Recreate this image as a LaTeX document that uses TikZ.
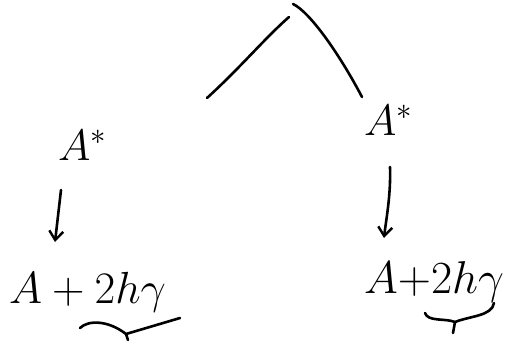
\RequirePackage{fix-cm}
\documentclass[tikz,border=0pt]{standalone}
\usetikzlibrary{arrows.meta}
\begin{document}
\begin{tikzpicture}[x=1pt,y=-1pt,
  ink/.style={line width=2.6pt,line cap=round,line join=round,black},
  arr/.style={ink,-{Straight Barb[length=9pt,width=14pt,line width=2.4pt]}},
  lbl/.style={inner sep=0pt,font=\fontsize{44}{48}\selectfont}]
\useasboundingbox (0,0) rectangle (508,343);
% top strokes
\coordinate (tl1) at (207,98); \coordinate (tl2) at (289,17);
\coordinate (tr1) at (293,4);  \coordinate (tr2) at (362,97);
\draw[ink] (tl1) .. controls (240,68) and (265,38) .. (tl2);
\draw[ink] (tr1) .. controls (310,12) and (340,55) .. (tr2);
% labels
\node[lbl,anchor=base west] (la) at (58,160) {$A^{\ast}$};
\node[lbl,anchor=base west] (ra) at (364,135) {$A^{\ast}$};
\node[lbl,anchor=base west,font=\fontsize{45}{49}\selectfont] (lb) at (9,303) {$A + 2h\gamma$};
\node[lbl,anchor=base west,font=\fontsize{46}{50}\selectfont] (rb) at (364,293) {$A{+}2h\gamma$};
% arrows
\coordinate (la1) at (61,190); \coordinate (la2) at (55,242);
\coordinate (ra1) at (390,167); \coordinate (ra2) at (384,238);
\draw[arr] (la1) -- (la2);
\draw[arr] (ra1) .. controls (391,195) and (386,220) .. (ra2);
% braces
\coordinate (lbA) at (80,328); \coordinate (lbT) at (128,340); \coordinate (lbB) at (180,318);
\draw[ink] (lbA) .. controls (88,320) and (108,320) .. (126,334) -- (lbT);
\draw[ink] (126,334) -- (lbB);
\coordinate (rbA) at (425,313); \coordinate (rbT) at (453,333); \coordinate (rbB) at (494,303);
\draw[ink] (rbA) .. controls (428,322) and (445,318) .. (455,322) -- (rbT);
\draw[ink] (455,322) .. controls (470,316) and (492,316) .. (rbB);
\end{tikzpicture}
\end{document}
